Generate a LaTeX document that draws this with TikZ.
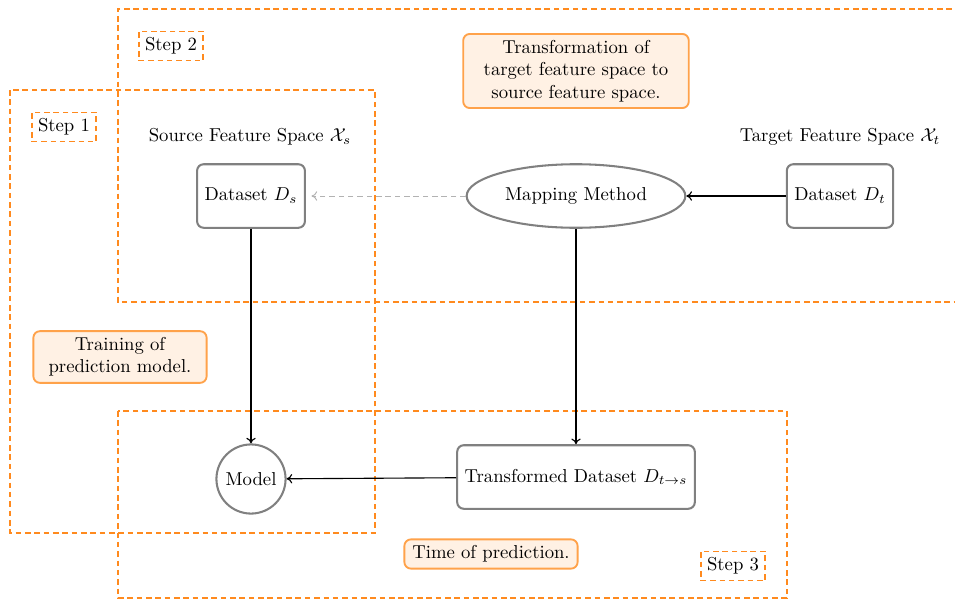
\documentclass[tikz,border=0pt]{standalone}
\usetikzlibrary{shapes.geometric,arrows.meta}
\definecolor{stepor}{HTML}{FF8A1E}
\definecolor{noteor}{HTML}{FFA24A}
\definecolor{notefill}{HTML}{FFF1E4}
\definecolor{boxgray}{HTML}{808080}
\tikzset{
  region/.style={draw=stepor, line width=0.8pt, dash pattern=on 3pt off 2pt},
  steplabel/.style={draw=stepor, line width=0.8pt, dash pattern=on 3pt off 2pt, inner sep=3.33pt},
  note/.style={draw=noteor, fill=notefill, line width=1pt, rounded corners=3.5pt, align=center, text width=#1, inner sep=3.33pt},
  note/.default=86pt,
  databox/.style={draw=boxgray, line width=1.1pt, rounded corners=3.5pt, minimum height=34pt, inner xsep=4pt},
  flow/.style={-{To[length=3pt,width=5pt]}, line width=0.6pt},
  hint/.style={-{To[length=3pt,width=5pt]}, line width=0.5pt, draw=black!30, dash pattern=on 3pt off 2pt, shorten >=3pt},
}
\begin{document}
\begin{tikzpicture}[x=0.535pt, y=-0.535pt]
\useasboundingbox (0,0) rectangle (955,599);

% step regions
\draw[region] (980,9) -- (118,9) -- (118,302) -- (980,302);
\draw[region] (10,90) rectangle (375,533);
\draw[region] (118,411) rectangle (787,598);

\node[steplabel] (s1) at (64,127) {Step 1};
\node[steplabel] (s2) at (171,46) {Step 2};
\node[steplabel] (s3) at (733,566) {Step 3};

% explanatory notes
\node[note=114pt] (n2) at (576,71) {Transformation of\\ target feature space to\\ source feature space.};
\node[note] (n1) at (120,357) {Training of\\ prediction model.};
\node[note] (n3) at (491,554) {Time of prediction.};

% feature space titles
\node (srcT) at (250,137) {Source Feature Space $\mathcal{X}_s$};
\node (tgtT) at (840,137) {Target Feature Space $\mathcal{X}_t$};

% main nodes
\node[databox] (ds) at (251,196) {Dataset $D_s$};
\node[ellipse, draw=boxgray, line width=1.1pt, minimum width=117pt, minimum height=34pt] (map) at (576,196) {Mapping Method};
\node[databox] (dt) at (840,196) {Dataset $D_t$};
\node[circle, draw=boxgray, line width=1.1pt, minimum size=37pt, inner sep=0pt] (model) at (251,479) {Model};
\node[databox] (tr) at (576,477) {Transformed Dataset $D_{t\rightarrow s}$};

% connectors
\draw[flow] (dt) -- (map);
\draw[hint] (map) -- (ds);
\draw[flow] (ds) -- (model);
\draw[flow] (map) -- (tr);
\draw[flow] (tr) -- (model);
\end{tikzpicture}
\end{document}
